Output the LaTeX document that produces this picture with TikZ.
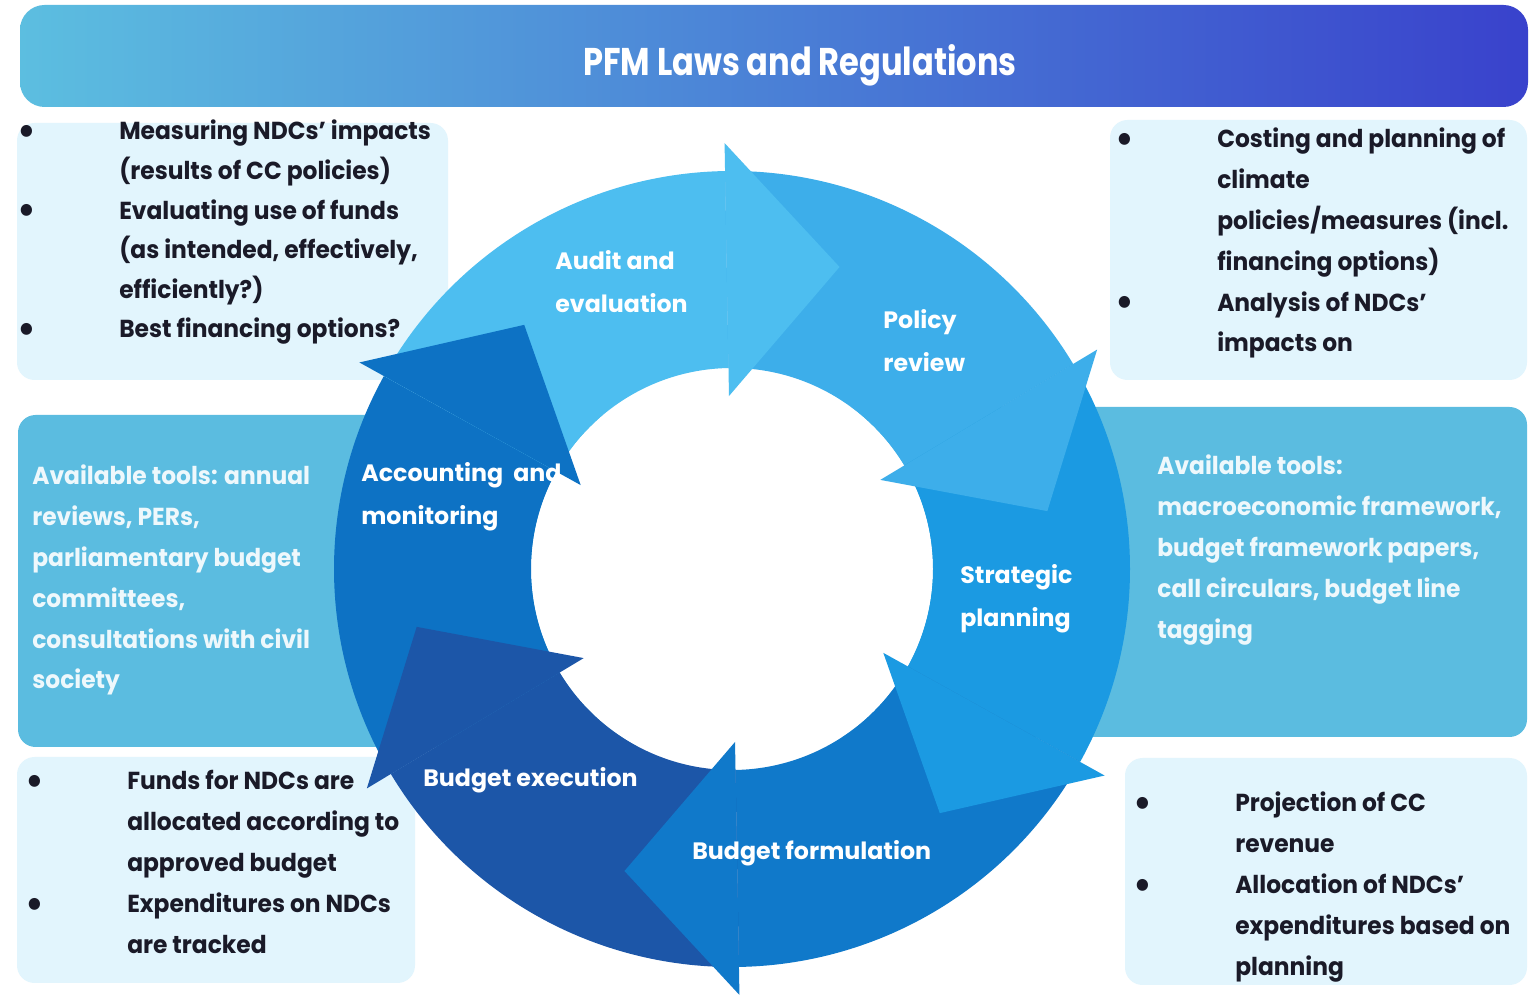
\documentclass[tikz,border=0pt]{standalone}
\usepackage{fontspec}
\newfontfamily\boxfont{Poppins}[FakeStretch=0.95]
\newfontfamily\stepfont{Poppins}
\newfontfamily\titlefont{Poppins}[FakeStretch=0.83]
\newcommand\bul{\raisebox{-0.2em}{\scalebox{1.6}{\textbullet}}}

\definecolor{bannerleft}{HTML}{5CBEE0}
\definecolor{bannerright}{HTML}{3942CC}
\definecolor{boxpale}{HTML}{E2F5FD}
\definecolor{boxmid}{HTML}{5BBCE0}
\definecolor{ink}{HTML}{1A1A28}
\definecolor{toolink}{HTML}{EEF8FC}
\definecolor{audit}{HTML}{4DBEF0}
\definecolor{policy}{HTML}{3DAEEA}
\definecolor{strategic}{HTML}{1B9AE2}
\definecolor{formulation}{HTML}{1079CA}
\definecolor{execution}{HTML}{1C56A8}
\definecolor{accounting}{HTML}{0D72C4}

\tikzset{
  lightbox/.style={fill=boxpale, rounded corners=10pt},
  toolbox/.style={fill=boxmid, rounded corners=10pt},
  listtext/.style={anchor=base west, inner sep=0pt, text=ink,
    font=\boxfont\bfseries\fontsize{14}{23.2}\selectfont},
  tooltext/.style={listtext, text=toolink},
  steptext/.style={anchor=base west, inner sep=0pt, text=white,
    font=\stepfont\bfseries\fontsize{13.5}{24.4}\selectfont},
}

\begin{document}
\begin{tikzpicture}[x=0.02cm, y=0.02cm]
\useasboundingbox (0,0) rectangle (1535,997);
\fill[white] (0,0) rectangle (1535,997);

% banner
\shade[left color=bannerleft, right color=bannerright, rounded corners=14pt] (20,890) rectangle (1528,992);
\node[anchor=base, text=white, font=\titlefont\bfseries\fontsize{22}{26}\selectfont] (title) at (800,921) {PFM Laws and Regulations};

% side boxes
\fill[lightbox] (17,617) rectangle (448,874);
\fill[lightbox] (1110,617) rectangle (1527,877);
\fill[toolbox] (18,250) rectangle (700,582);
\fill[toolbox] (760,260) rectangle (1527,590);
\fill[lightbox] (17,14) rectangle (415,240);
\fill[lightbox] (1125,12) rectangle (1527,239);

\node[listtext] (audittasks) at (17,857) {\fontsize{14}{22.5}\selectfont
  \begin{tabular}[t]{@{}p{58pt}@{}l@{}}
  \bul & Measuring NDCs’ impacts\\
   & (results of CC policies)\\
  \bul & Evaluating use of funds\\
   & (as intended, effectively,\\
   & efficiently?)\\
  \bul & Best financing options?
  \end{tabular}};
\node[listtext] (policytasks) at (1115,849) {%
  \begin{tabular}[t]{@{}p{58pt}@{}l@{}}
  \bul & Costing and planning of\\
   & climate\\
   & policies/measures (incl.\\
   & financing options)\\
  \bul & Analysis of NDCs’\\
   & impacts on
  \end{tabular}};
\node[tooltext] (lefttools) at (32,512) {%
  \begin{tabular}[t]{@{}l@{}}
  Available tools: annual\\
  reviews, PERs,\\
  parliamentary budget\\
  committees,\\
  consultations with civil\\
  society
  \end{tabular}};
\node[tooltext] (righttools) at (1157,522) {%
  \begin{tabular}[t]{@{}l@{}}
  Available tools:\\
  macroeconomic framework,\\
  budget framework papers,\\
  call circulars, budget line\\
  tagging
  \end{tabular}};
\node[listtext] (executiontasks) at (25,207) {%
  \begin{tabular}[t]{@{}p{58pt}@{}l@{}}
  \bul & Funds for NDCs are\\
   & allocated according to\\
   & approved budget\\
  \bul & Expenditures on NDCs\\
   & are tracked
  \end{tabular}};
\node[listtext] (formulationtasks) at (1133,185) {%
  \begin{tabular}[t]{@{}p{58pt}@{}l@{}}
  \bul & Projection of CC\\
   & revenue\\
  \bul & Allocation of NDCs’\\
   & expenditures based on\\
   & planning
  \end{tabular}};

% the cycle: white hole, ring pieces, then the heads on top
\begin{scope}[shift={(732,428)}]
  \fill[white] (0,0) circle (201);
  \foreach \a/\col in {151/accounting, 91/audit, 31/policy, -29/strategic, -89/formulation, -149/execution}
    \fill[\col] (\a+60:398) arc[start angle=\a+60, end angle=\a, radius=398]
      -- (\a:201) arc[start angle=\a, end angle=\a+60, radius=201] -- cycle;
  \foreach \a/\col in {151/accounting, 91/audit, 31/policy, -29/strategic, -89/formulation, -149/execution}
    \fill[\col] (\a:426) -- (\a-20.6:320.6) -- (\a:173) -- cycle;
\end{scope}

\node[steptext] (auditstep) at (555,727) {\begin{tabular}[t]{@{}l@{}}Audit and\\ evaluation\end{tabular}};
\node[steptext] (policystep) at (883,668) {\begin{tabular}[t]{@{}l@{}}Policy\\ review\end{tabular}};
\node[steptext] (accountingstep) at (361,515) {\begin{tabular}[t]{@{}l@{}}Accounting\ \ and\\ monitoring\end{tabular}};
\node[steptext] (strategicstep) at (960,413) {\begin{tabular}[t]{@{}l@{}}Strategic\\ planning\end{tabular}};
\node[steptext] (executionstep) at (423,210) {Budget execution};
\node[steptext] (formulationstep) at (692,137) {Budget formulation};
\end{tikzpicture}
\end{document}
